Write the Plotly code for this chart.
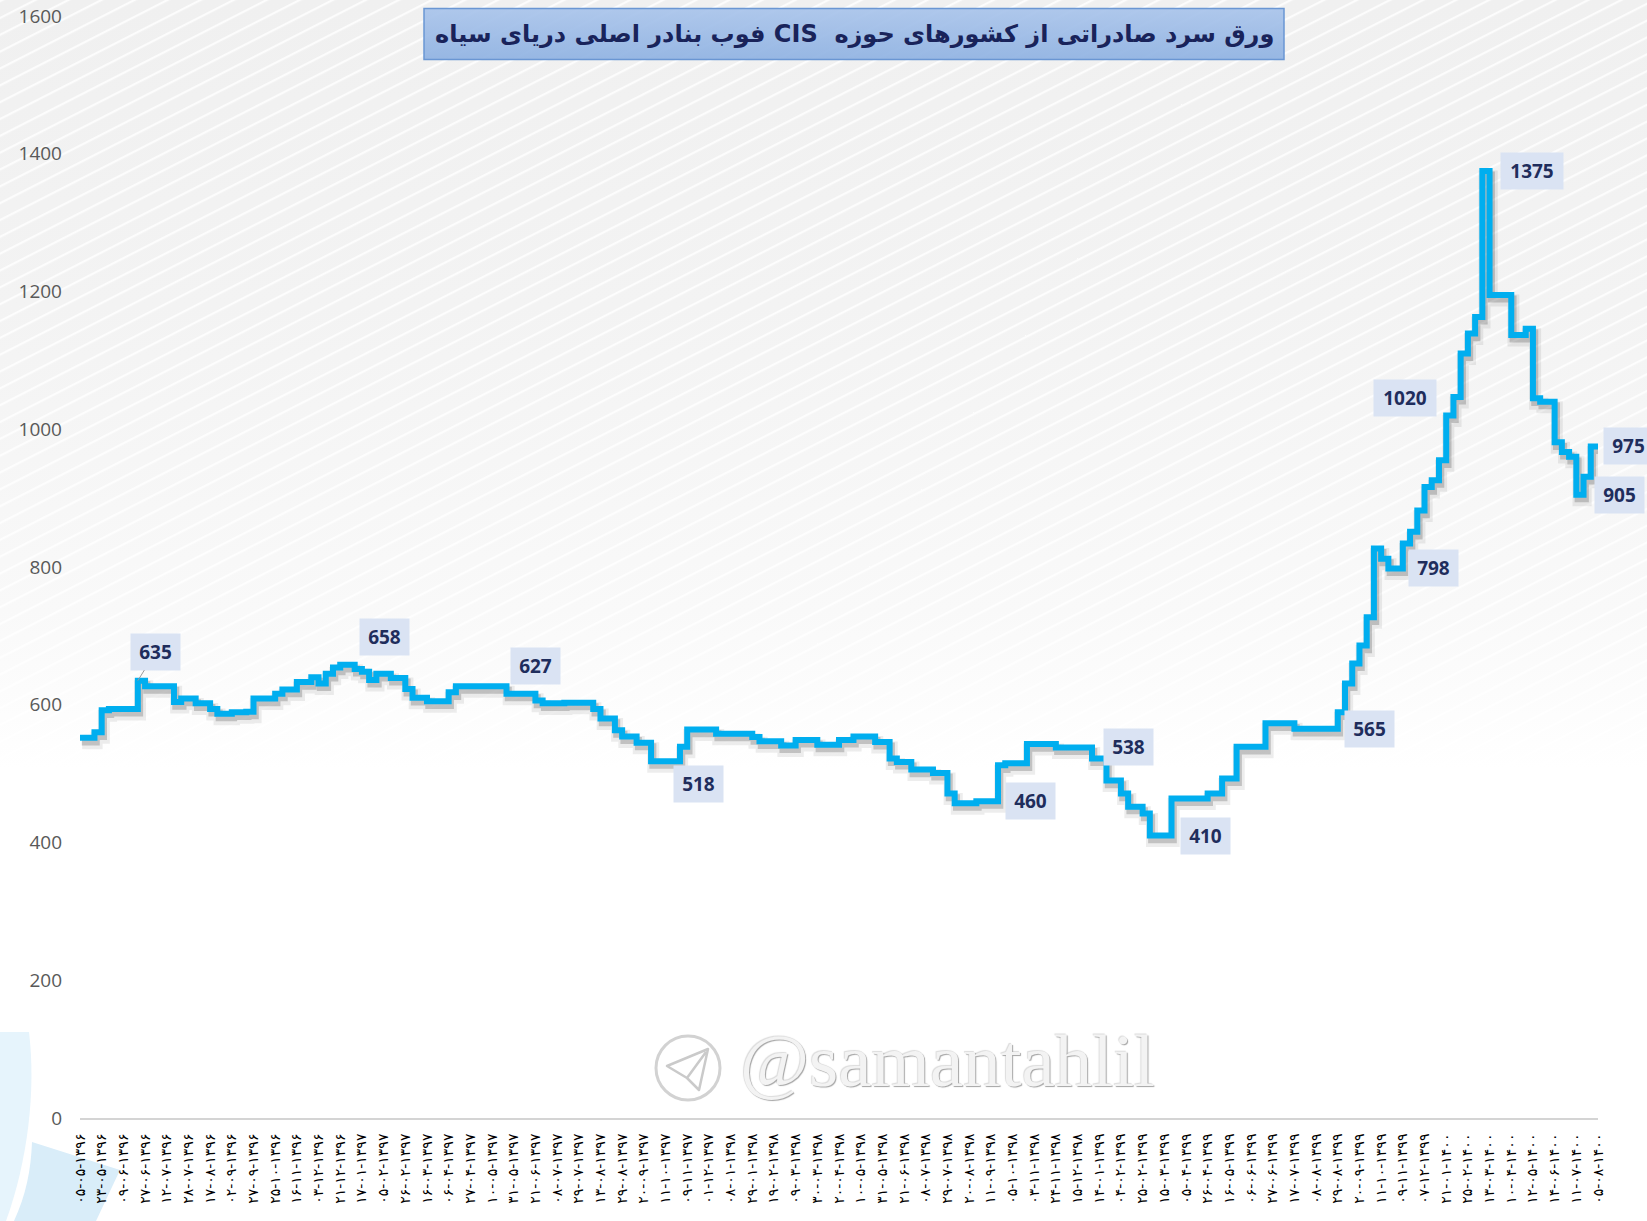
import base64
import plotly.graph_objects as go

# ---------------- data ----------------
price = [
    552, 552, 560, 592, 594, 594, 594, 594, 635, 627, 627, 627, 627, 604, 609, 609, 602, 602, 594, 587,
    587, 589, 589, 590, 609, 609, 609, 616, 622, 622, 633, 633, 640, 631, 645, 654, 658, 658, 652, 648,
    636, 645, 645, 639, 639, 623, 610, 610, 605, 605, 605, 618, 627, 627, 627, 627, 627, 627, 627, 616,
    616, 616, 616, 606, 602, 602, 602, 603, 603, 603, 603, 594, 580, 580, 563, 554, 554, 545, 545, 518,
    518, 518, 518, 539, 564, 564, 564, 564, 558, 558, 558, 558, 558, 553, 547, 547, 547, 541, 541, 549,
    549, 549, 542, 542, 542, 549, 549, 554, 554, 554, 546, 546, 522, 517, 517, 506, 506, 506, 501, 501,
    471, 457, 457, 457, 460, 460, 460, 512, 515, 515, 515, 543, 543, 543, 543, 538, 538, 538, 538, 538,
    522, 522, 490, 490, 471, 452, 452, 442, 410, 410, 410, 464, 464, 464, 464, 464, 471, 471, 493, 493,
    539, 539, 539, 539, 573, 573, 573, 573, 565, 565, 565, 565, 565, 565, 589, 631, 660, 686, 727, 827,
    812, 798, 798, 834, 851, 882, 916, 926, 955, 1020, 1047, 1110, 1139, 1163, 1375, 1195, 1195, 1195, 1137, 1137,
    1146, 1045, 1040, 1040, 981, 967, 960, 905, 931, 975, 975,
]

date_labels = [
    "۰۵-۰۵-۱۳۹۶", "۲۳-۰۵-۱۳۹۶", "۰۹-۰۶-۱۳۹۶", "۲۷-۰۶-۱۳۹۶", "۱۲-۰۷-۱۳۹۶", "۲۸-۰۷-۱۳۹۶", "۱۷-۰۸-۱۳۹۶",
    "۰۲-۰۹-۱۳۹۶", "۲۷-۰۹-۱۳۹۶", "۲۵-۱۰-۱۳۹۶", "۱۶-۱۱-۱۳۹۶", "۰۳-۱۲-۱۳۹۶", "۲۱-۱۲-۱۳۹۶",
    "۱۷-۰۱-۱۳۹۷", "۰۵-۰۲-۱۳۹۷", "۲۶-۰۲-۱۳۹۷", "۱۶-۰۳-۱۳۹۷", "۰۶-۰۴-۱۳۹۷", "۲۷-۰۴-۱۳۹۷", "۱۰-۰۵-۱۳۹۷",
    "۳۱-۰۵-۱۳۹۷", "۲۱-۰۶-۱۳۹۷", "۰۸-۰۷-۱۳۹۷", "۲۹-۰۷-۱۳۹۷", "۱۳-۰۸-۱۳۹۷", "۲۹-۰۸-۱۳۹۷", "۲۰-۰۹-۱۳۹۷",
    "۱۱-۱۰-۱۳۹۷", "۰۹-۱۱-۱۳۹۷", "۰۱-۱۲-۱۳۹۷",
    "۰۸-۰۱-۱۳۹۸", "۲۹-۰۱-۱۳۹۸", "۱۹-۰۲-۱۳۹۸", "۰۹-۰۳-۱۳۹۸", "۳۰-۰۳-۱۳۹۸", "۲۰-۰۴-۱۳۹۸", "۱۰-۰۵-۱۳۹۸",
    "۳۱-۰۵-۱۳۹۸", "۲۱-۰۶-۱۳۹۸", "۰۸-۰۷-۱۳۹۸", "۲۹-۰۷-۱۳۹۸", "۲۰-۰۸-۱۳۹۸", "۱۱-۰۹-۱۳۹۸", "۰۵-۱۰-۱۳۹۸",
    "۰۳-۱۱-۱۳۹۸", "۲۴-۱۱-۱۳۹۸", "۱۵-۱۲-۱۳۹۸",
    "۱۴-۰۱-۱۳۹۹", "۰۴-۰۲-۱۳۹۹", "۲۵-۰۲-۱۳۹۹", "۱۵-۰۳-۱۳۹۹", "۰۵-۰۴-۱۳۹۹", "۲۶-۰۴-۱۳۹۹", "۱۶-۰۵-۱۳۹۹",
    "۰۶-۰۶-۱۳۹۹", "۲۷-۰۶-۱۳۹۹", "۱۷-۰۷-۱۳۹۹", "۰۸-۰۸-۱۳۹۹", "۲۹-۰۸-۱۳۹۹", "۲۰-۰۹-۱۳۹۹", "۱۱-۱۰-۱۳۹۹",
    "۰۹-۱۱-۱۳۹۹", "۰۷-۱۲-۱۳۹۹",
    "۲۱-۰۱-۱۴۰۰", "۲۵-۰۲-۱۴۰۰", "۱۳-۰۳-۱۴۰۰", "۱۰-۰۴-۱۴۰۰", "۱۲-۰۵-۱۴۰۰", "۱۴-۰۶-۱۴۰۰", "۱۱-۰۷-۱۴۰۰",
    "۰۵-۰۸-۱۴۰۰",
]

y_ticks = [0, 200, 400, 600, 800, 1000, 1200, 1400, 1600]

# points that carry a data label
label_idx = [8, 37, 58, 82, 126, 139, 150, 173, 182, 189, 194, 207, 210]

title = "ورق سرد صادراتی از کشورهای حوزه  CIS فوب بنادر اصلی دریای سیاه"
watermark = "@samantahlil"

# ---------------- styling / geometry ----------------
W, H = 1647, 1221
ML, MR, MT, MB = 80, 49, 16, 103
PW, PH = W - ML - MR, H - MT - MB
step = 3  # a tick label every 3rd point

label_shift = [(18, 29), (37, 28), (36, 20), (26, -23), (40, 0), (44, 0), (41, 0),
               (39, 0), (38, 0), (-41, 17), (50, 0), (43, 0), (30, 0)]

xs = list(range(len(price)))


def px_to_paper(px, py):
    return (px - ML) / PW, (H - MB - py) / PH


bg_svg = f"""<svg xmlns='http://www.w3.org/2000/svg' width='{W}' height='{H}' viewBox='0 0 {W} {H}'>
<defs>
<linearGradient id='bg' x1='0' y1='0' x2='0' y2='1'>
<stop offset='0' stop-color='#f0f0f0'/>
<stop offset='0.25' stop-color='#f3f3f3'/>
<stop offset='0.5' stop-color='#f9f9f9'/>
<stop offset='0.63' stop-color='#ffffff'/>
<stop offset='1' stop-color='#ffffff'/>
</linearGradient>
<pattern id='st' width='15' height='15' patternUnits='userSpaceOnUse' patternTransform='rotate(-27)'>
<rect x='0' y='0' width='15' height='2.2' fill='#ffffff' fill-opacity='0.8'/>
</pattern>
<linearGradient id='tb' x1='0' y1='0' x2='0' y2='1'>
<stop offset='0' stop-color='#a9c4eb'/>
<stop offset='1' stop-color='#8fb2e2'/>
</linearGradient>
</defs>
<rect width='{W}' height='{H}' fill='url(#bg)'/>
<rect width='{W}' height='{H}' fill='url(#st)'/>
<path d='M0,1032 L29,1032 C36,1090 28,1160 6,1221 L0,1221 Z' fill='#e6f4fc'/>
<path d='M32,1142 L120,1170 L96,1221 L14,1221 C26,1195 31,1170 32,1142 Z' fill='#d9edf9'/>
<rect x='424' y='8.5' width='860' height='51' fill='url(#tb)' fill-opacity='0.92' stroke='#6a96d3' stroke-width='1.5'/>
<circle cx='688' cy='1068' r='32' fill='none' stroke='#d2d2d2' stroke-width='3'/>
<path d='M667,1066 L708,1049 L699,1090 L687,1078 Z M687,1078 L706,1052' fill='none' stroke='#cacaca' stroke-width='2.5' stroke-linejoin='round'/>
</svg>"""
bg_uri = "data:image/svg+xml;base64," + base64.b64encode(bg_svg.encode("utf-8")).decode("ascii")

fig = go.Figure()

# soft shadow under the line
fig.add_trace(go.Scatter(
    x=[v + 0.3 for v in xs], y=[p - 8 for p in price], mode="lines", line_shape="hv",
    line=dict(color="rgba(0,0,0,0.07)", width=12), hoverinfo="skip", showlegend=False))
fig.add_trace(go.Scatter(
    x=[v + 0.25 for v in xs], y=[p - 6 for p in price], mode="lines", line_shape="hv",
    line=dict(color="rgba(40,40,40,0.22)", width=7), hoverinfo="skip", showlegend=False))
# main line
fig.add_trace(go.Scatter(
    x=xs, y=price, mode="lines", line_shape="hv",
    line=dict(color="#00aeef", width=6), showlegend=False))

annotations = []
for k, (i, (dx, dy)) in enumerate(zip(label_idx, label_shift)):
    txt = str(price[i])
    common = dict(
        x=i, y=price[i], xref="x", yref="y", text=f"<b>{txt}</b>",
        font=dict(family="Open Sans", size=19, color="#1f2d5c"),
        bgcolor="#dae3f3", borderpad=5, width=13 * len(txt), align="center",
    )
    if k == 0:
        annotations.append(dict(common, showarrow=True, arrowhead=0, arrowwidth=1,
                                arrowcolor="#9a9a9a", ax=dx, ay=-dy))
    else:
        annotations.append(dict(common, showarrow=False, xshift=dx, yshift=dy))

# title, embedded as right-to-left text (RLE ... PDF)
title_text = "\u202b" + title + "\u202c"
tx, ty = px_to_paper(854, 34)
annotations.append(dict(
    x=tx, y=ty, xref="paper", yref="paper", showarrow=False,
    text=f"<b>{title_text}</b>",
    font=dict(family="DejaVu Sans", size=24, color="#19235a"),
    xanchor="center", yanchor="middle"))

# watermark
wx, wy = px_to_paper(948, 1060)
annotations.append(dict(
    x=wx, y=wy, xref="paper", yref="paper", showarrow=False, text=watermark,
    font=dict(family="Liberation Serif", size=75, color="#f3f3f3",
              shadow="1px 1px 1px #a4a4a4, -1px -1px 1px #dcdcdc"),
    xanchor="center", yanchor="middle"))

ix, iy = px_to_paper(0, 0)
fig.update_layout(
    width=W, height=H, autosize=False,
    margin=dict(l=ML, r=MR, t=MT, b=MB, pad=0, autoexpand=False),
    paper_bgcolor="#ffffff", plot_bgcolor="rgba(0,0,0,0)",
    images=[dict(source=bg_uri, xref="paper", yref="paper", x=ix, y=iy,
                 sizex=W / PW, sizey=H / PH, xanchor="left", yanchor="top",
                 sizing="stretch", layer="below")],
    annotations=annotations,
    showlegend=False,
    xaxis=dict(
        range=[0, len(price) - 1], tickmode="array", tickvals=xs[::step], ticktext=date_labels,
        tickangle=-90, tickfont=dict(family="DejaVu Sans", size=14, color="#000000"),
        showgrid=False, zeroline=False, showline=True, linecolor="#d4d4d4", linewidth=2,
        ticks="", ticklabelstandoff=8, fixedrange=True),
    yaxis=dict(
        range=[0, 1600], tickmode="array", tickvals=y_ticks,
        tickfont=dict(family="Open Sans", size=19, color="#595959"),
        showgrid=False, zeroline=False, showline=False, ticks="", ticklabelstandoff=17,
        fixedrange=True),
)

fig.write_html(
    "out.html",
    config={"displayModeBar": False},
    post_script="document.body.style.margin='0';document.body.style.overflow='hidden';",
)
